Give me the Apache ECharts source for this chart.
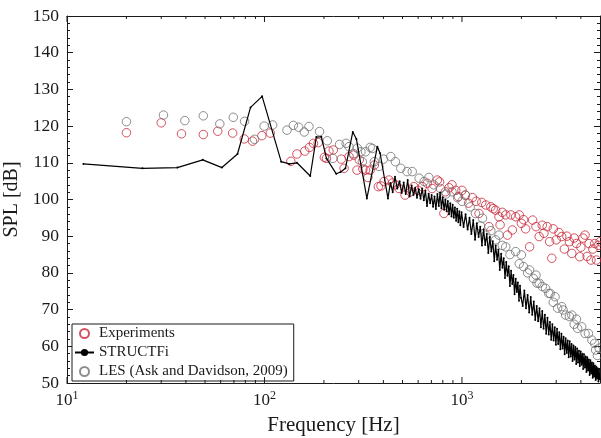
<!DOCTYPE html>
<html>
<head>
<meta charset="utf-8">
<script src="https://cdn.jsdelivr.net/npm/echarts@6/dist/echarts.min.js"></script>
<style>
  html, body { margin: 0; padding: 0; background: #fff; }
  #chart { width: 601px; height: 438px; }
</style>
</head>
<body>
<div id="chart"></div>
<script>
// Experiments (red open circles): [frequency Hz, SPL dB]
const expData = [
  [20,118.2],[30,120.9],[38,117.9],[49,117.7],[58,118.6],[69,118.1],[79,116.5],[87,115.9],[97,117.4],[107,118.1],
  [136,110.4],[146,112.4],[160,113.2],[169,114.2],[177,115.3],[187,115.5],[201,111.5],[206,111.2],[212,113.2],[223,113.5],
  [245,111.0],[253,108.5],[268,111.7],[283,112.1],[294,108.0],[302,110.8],[315,108.3],[325,108.0],[334,106.0],[343,108.0],
  [360,109.4],[377,103.5],[389,103.7],[403,104.9],[427,105.3],[445,104.5],[460,104.0],[480,103.0],[515,101.2],[550,102.1],
  [570,103.5],[600,102.5],[630,103.5],[667,104.4],[706,103.0],[750,105.3],[770,104.8],[810,96.2],[825,102.1],[860,103.2],
  [890,104.0],[930,102.5],[960,100.8],[1000,102.5],[1040,101.2],[1080,99.0],[1130,100.5],[1180,99.5],[1220,96.2],[1260,99.2],
  [1320,98.5],[1370,92.6],[1400,98.0],[1440,97.5],[1480,97.1],[1540,95.3],[1560,93.1],[1600,96.5],[1665,95.8],[1700,90.3],
  [1770,95.8],[1800,91.7],[1870,95.3],[1950,95.8],[2000,93.5],[2050,94.5],[2100,92.0],[2200,87.1],[2280,94.4],[2370,92.6],
  [2460,89.9],[2550,93.0],[2600,90.8],[2700,92.6],[2780,88.5],[2850,84.0],[2900,92.0],[3000,89.0],[3100,91.0],[3200,89.9],
  [3300,86.5],[3400,90.0],[3500,88.5],[3600,85.3],[3700,89.5],[3800,88.0],[3950,84.4],[4000,87.0],[4100,89.5],[4200,90.3],
  [4300,84.5],[4400,88.0],[4500,83.5],[4600,86.5],[4700,88.0],[4800,83.5],[4900,87.5],[5000,88.5]
]

// STRUCTFi (black line with small dots)
const structData = [
  [12.1,109.7],[24.1,108.5],[36.2,108.7],[48.7,110.8],[60.9,108.7],[73,112.4],[85,125.1],[97.3,128.1],
  [121.5,110.3],[133.6,109.7],[146,110.0],[170.5,106.4],[183,117.0],[194,117.1],[206,111.2],[231,107.0],[243,107.5],
  [257,108.5],[280,118.4],[292,116.5],[330,100.3],[373,114.4],[385,112.6],
  [422,100.3],[434,104.5],[446,102.0],[458,106.2],[470,103.0],[483,105.0],[495,101.8],[507,104.6],[519,101.5],[531,105.3],
  [543,100.8],[556,103.8],[568,101.2],[580,103.2],[592,100.5],[604,102.8],[617,100.2],[629,103.0],[641,99.8],[653,102.4],
  [665,98.2],[678,101.6],[690,99.0],[702,101.2],[714,98.0],[726,100.8],[738,97.4],[751,101.5],[763,98.2],[775,101.9],
  [787,97.6],[799,100.6],[812,97.2],[824,99.9],[836,96.8],[848,99.6],[860,96.0],[873,99.0],[885,95.4],[897,98.6],
  [909,95.0],[921,97.8],[934,94.2],[946,97.5],[958,93.8],[970,96.8],[982,93.0],[995,96.5],
  [1019,92.5],[1043,96.0],[1068,91.8],[1092,95.0],[1116,90.6],[1141,94.4],[1165,89.0],[1189,93.5],[1214,89.8],[1238,92.6],
  [1262,87.5],[1287,91.8],[1311,87.6],[1335,90.6],[1360,85.4],[1384,89.8],[1408,85.8],[1433,88.6],[1457,83.2],[1481,87.5],
  [1506,83.6],[1530,86.4],[1554,80.8],[1579,85.2],[1603,81.4],[1627,84.0],[1652,78.6],[1676,83.0],[1700,79.2],[1725,81.8],
  [1749,76.4],[1773,80.6],[1798,77.0],[1822,79.4],[1846,74.2],[1871,78.4],[1895,74.8],[1919,77.4],[1944,72.4],[1968,76.5],
  [1992,73.2],
  [2030,71.0],[2070,75.2],[2110,70.4],[2150,74.0],[2190,69.2],[2230,73.4],[2270,68.6],[2310,72.2],[2350,67.2],[2390,71.0],
  [2430,66.8],[2470,70.4],[2510,65.2],[2550,69.6],[2590,64.8],[2630,68.6],[2670,63.4],[2710,67.8],[2750,63.2],[2790,66.6],
  [2830,61.8],[2870,66.0],[2910,61.6],[2950,65.2],[2990,60.4],[3030,64.8],[3070,60.6],[3110,63.8],[3150,59.2],[3190,63.4],
  [3230,59.4],[3270,62.6],[3310,57.8],[3350,62.2],[3390,58.2],[3430,61.6],[3470,57.0],[3510,61.4],[3550,57.2],[3590,60.6],
  [3630,56.0],[3670,60.2],[3710,56.4],[3750,59.8],[3790,55.2],[3830,59.4],[3870,55.6],[3910,58.8],[3950,54.6],[3990,58.6],
  [4030,55.0],[4070,58.0],[4110,53.8],[4150,57.8],[4190,54.2],[4230,57.2],[4270,53.0],[4310,57.0],[4350,53.4],[4390,56.4],
  [4430,52.2],[4470,56.2],[4510,52.6],[4550,55.6],[4590,51.4],[4630,55.4],[4670,51.8],[4710,54.8],[4750,50.8],[4790,54.4],
  [4830,51.2],[4870,54.0],[4910,50.4],[4950,53.6],[4990,51.0]
]

// LES (Ask and Davidson, 2009) (grey open circles)
const lesData = [
  [20,121.2],[30.8,123.0],[39.5,121.5],[49,122.8],[59.4,120.6],[69.5,122.4],[79.3,121.3],[89,116.4],[99.6,120.0],[110,120.3],
  [130,118.9],[140,120.2],[149,119.7],[159,118.4],[168,119.9],[190,118.5],[208,116.0],[222,111.2],[240,115.0],[259,115.3],
  [268,114.4],[283,112.5],[295,114.0],[308,113.0],[313,110.3],[325,113.0],[343,114.2],[352,113.9],[360,110.3],[380,109.0],
  [400,111.0],[436,111.7],[460,110.3],[490,108.5],[527,107.6],[560,107.6],[607,105.8],[643,104.9],[680,106.0],[720,104.0],
  [779,103.0],[830,101.5],[890,102.1],[950,100.5],[1000,99.5],[1040,101.2],[1100,98.0],[1170,96.2],[1240,92.8],[1270,94.9],
  [1320,90.3],[1400,91.5],[1480,89.0],[1540,90.3],[1600,87.5],[1665,87.1],[1750,85.0],[1870,85.8],[1950,82.5],[2000,84.9],
  [2050,81.7],[2150,80.0],[2200,80.8],[2300,78.5],[2370,79.4],[2400,77.2],[2460,77.2],[2550,76.3],[2650,75.8],[2750,74.4],
  [2800,74.4],[2900,72.0],[2960,73.5],[3050,70.4],[3200,70.8],[3250,69.9],[3350,68.5],[3500,68.1],[3600,68.5],[3700,66.0],
  [3800,67.4],[3850,64.9],[4040,65.3],[4200,63.5],[4370,63.5],[4550,61.7],[4700,60.8],[4750,59.0],[4850,57.5],[4950,59.5]
]

const xMajor = [10, 100, 1000]
const xMinor = [20,30,40,50,60,70,80,90,200,300,400,500,600,700,800,900,2000,3000,4000]
const yMin = 50, yMax = 150

const serif = 'Liberation Serif'
const ink = '#1a1a1a'
const redC = '#C8283A'
const greyC = '#707070'

const chart = echarts.init(document.getElementById('chart'))

// tick marks on the bottom and top edges of the log axis (inside the box)
const tickData = xMajor.map(v => [v, 6]).concat(xMinor.map(v => [v, 3]))
function renderTick(params, api) {
  const x = api.value(0), len = api.value(1)
  const b = api.coord([x, yMin]), t = api.coord([x, yMax])
  const st = { stroke: ink, lineWidth: 1 }
  return {
    type: 'group',
    children: [
      { type: 'line', shape: { x1: b[0], y1: b[1], x2: b[0], y2: b[1] - len }, style: st },
      { type: 'line', shape: { x1: t[0], y1: t[1], x2: t[0], y2: t[1] + len }, style: st }
    ]
  }
}

const option = {
  animation: false,
  backgroundColor: '#fff',
  grid: { left: 67, right: 1, top: 16, bottom: 55, containLabel: false, outerBoundsMode: 'none' },
  legend: {
    orient: 'vertical', left: 72, top: 324,
    padding: [2, 6, 2, 2], itemGap: 4, itemWidth: 19, itemHeight: 9,
    borderColor: ink, borderWidth: 1, backgroundColor: '#fff',
    textStyle: { fontFamily: serif, fontSize: 15, lineHeight: 14, color: ink },
    data: ['Experiments', 'STRUCTFi', 'LES (Ask and Davidson, 2009)']
  },
  xAxis: [
    {
      type: 'log', logBase: 10, min: 10, max: 5000, position: 'bottom',
      axisLine: { show: true, onZero: false, lineStyle: { color: ink, width: 1 } },
      axisTick: { show: false },
      splitLine: { show: false },
      axisLabel: {
        customValues: xMajor, margin: 7, color: ink,
        formatter: v => '{b|10}{s|' + Math.round(Math.log10(v)) + '}',
        rich: {
          b: { fontFamily: serif, fontSize: 17, color: ink, lineHeight: 19, verticalAlign: 'bottom' },
          s: { fontFamily: serif, fontSize: 12, color: ink, lineHeight: 13, verticalAlign: 'top' }
        }
      },
      name: 'Frequency [Hz]', nameLocation: 'middle', nameGap: 32,
      nameTextStyle: { fontFamily: serif, fontSize: 21, color: ink }
    },
    {
      type: 'log', logBase: 10, min: 10, max: 5000, position: 'top',
      axisLine: { show: true, onZero: false, lineStyle: { color: ink, width: 1 } },
      axisTick: { show: false }, axisLabel: { show: false }, splitLine: { show: false }
    }
  ],
  yAxis: [
    {
      type: 'value', min: yMin, max: yMax, interval: 10, position: 'left',
      axisLine: { show: true, onZero: false, lineStyle: { color: ink, width: 1 } },
      axisTick: { show: true, inside: true, length: 6, lineStyle: { color: ink } },
      minorTick: { show: true, splitNumber: 5, length: 3, lineStyle: { color: ink } },
      splitLine: { show: false },
      axisLabel: { fontFamily: serif, fontSize: 17.5, color: ink, margin: 8 },
      name: 'SPL [dB]', nameLocation: 'middle', nameGap: 38, nameRotate: 90,
      nameTextStyle: { fontFamily: serif, fontSize: 20, color: ink }
    },
    {
      type: 'value', min: yMin, max: yMax, interval: 10, position: 'right',
      axisLine: { show: true, onZero: false, lineStyle: { color: ink, width: 1 } },
      axisTick: { show: true, inside: true, length: 6, lineStyle: { color: ink } },
      minorTick: { show: true, splitNumber: 5, length: 3, lineStyle: { color: ink } },
      splitLine: { show: false },
      axisLabel: { show: false }
    }
  ],
  series: [
    {
      name: 'Experiments', type: 'scatter', xAxisIndex: 0, yAxisIndex: 0,
      data: expData, symbol: 'circle', symbolSize: 8.5,
      itemStyle: { color: 'transparent', borderColor: redC, borderWidth: 1 }
    },
    {
      name: 'STRUCTFi', type: 'line', xAxisIndex: 0, yAxisIndex: 0,
      data: structData, symbol: 'circle', symbolSize: 2, showAllSymbol: true,
      lineStyle: { color: '#000', width: 1.2 },
      itemStyle: { color: '#000' }
    },
    {
      name: 'LES (Ask and Davidson, 2009)', type: 'scatter', xAxisIndex: 0, yAxisIndex: 0,
      data: lesData, symbol: 'circle', symbolSize: 8.5,
      itemStyle: { color: 'transparent', borderColor: greyC, borderWidth: 1 }
    },
    {
      name: 'xticks', type: 'custom', xAxisIndex: 0, yAxisIndex: 0,
      data: tickData, renderItem: renderTick, silent: true, clip: false, z: 5
    }
  ]
}

chart.setOption(option)
</script>
</body>
</html>
